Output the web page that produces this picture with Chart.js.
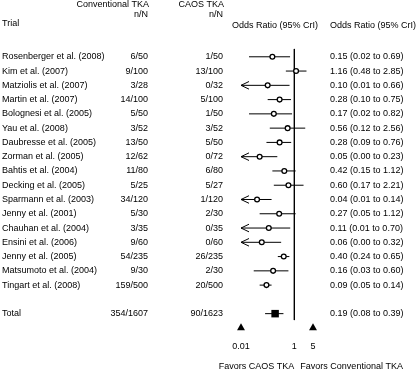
<!DOCTYPE html>
<html>
<head>
<meta charset="utf-8">
<script src="https://cdn.jsdelivr.net/npm/chart.js@4"></script>
<style>
  html, body { margin: 0; padding: 0; background: #fff; }
  #wrap { width: 416px; height: 371px; position: relative; }
</style>
</head>
<body>
<div id="wrap"><canvas id="forest"></canvas></div>
<script>
// =============================
// Data
// =============================
const trials = [
  "Rosenberger et al. (2008)", "Kim et al. (2007)", "Matziolis et al. (2007)",
  "Martin et al. (2007)", "Bolognesi et al. (2005)", "Yau et al. (2008)",
  "Daubresse et al. (2005)", "Zorman et al. (2005)", "Bahtis et al. (2004)",
  "Decking et al. (2005)", "Sparmann et al. (2003)", "Jenny et al. (2001)",
  "Chauhan et al. (2004)", "Ensini et al. (2006)", "Jenny et al. (2005)",
  "Matsumoto et al. (2004)", "Tingart et al. (2008)"
];
const convTKA = ["6/50", "9/100", "3/28", "14/100", "5/50", "3/52", "13/50", "12/62", "11/80",
  "5/25", "34/120", "5/30", "3/35", "9/60", "54/235", "9/30", "159/500"];
const caosTKA = ["1/50", "13/100", "0/32", "5/100", "1/50", "3/52", "5/50", "0/72", "6/80",
  "5/27", "1/120", "2/30", "0/35", "0/60", "26/235", "2/30", "20/500"];
const oddsRatio = [0.15, 1.16, 0.10, 0.28, 0.17, 0.56, 0.28, 0.05, 0.42, 0.60, 0.04, 0.27, 0.11, 0.06, 0.40, 0.16, 0.09];
const lowerCrI = [0.02, 0.48, 0.01, 0.10, 0.02, 0.12, 0.09, 0.00, 0.15, 0.17, 0.01, 0.05, 0.01, 0.00, 0.24, 0.03, 0.05];
const upperCrI = [0.69, 2.85, 0.66, 0.75, 0.82, 2.56, 0.76, 0.23, 1.12, 2.21, 0.14, 1.12, 0.70, 0.32, 0.65, 0.60, 0.14];

const totalConv = "354/1607";
const totalCaos = "90/1623";
const totalOR = [0.19, 0.08, 0.39]; // estimate, lower, upper

const axisTicks = [0.01, 1, 5];
const markerTicks = [0.01, 5];

// =============================
// Layout constants
// =============================
const X_MIN = 0.01, X_MAX = 5;
const TOTAL_ROW = 18;
const MARKER_ROW = 19;
const LINE_TOP = -0.55, LINE_BOTTOM = 18.45;
const COL_CONV = 148, COL_CAOS = 223, COL_OR = 330;
const FONT = "9px 'Liberation Sans', Arial, sans-serif";

const fmt = (v) => v.toFixed(2);
const clampLo = (v) => Math.max(v, X_MIN);

// CI line per trial
const ciSets = trials.map((t, i) => ({
  type: "line",
  data: [{ x: clampLo(lowerCrI[i]), y: i }, { x: upperCrI[i], y: i }],
  borderColor: "#000",
  borderWidth: 1,
  pointRadius: 0,
  clip: false,
  order: 2,
}));

const totalLine = {
  type: "line",
  data: [{ x: totalOR[1], y: TOTAL_ROW }, { x: totalOR[2], y: TOTAL_ROW }],
  borderColor: "#000",
  borderWidth: 1,
  pointRadius: 0,
  clip: false,
  order: 2,
};

const noEffect = {
  type: "line",
  data: [{ x: 1, y: LINE_TOP }, { x: 1, y: LINE_BOTTOM }],
  borderColor: "#000",
  borderWidth: 1,
  pointRadius: 0,
  clip: false,
  order: 3,
};

const pointSet = {
  type: "scatter",
  data: oddsRatio.map((v, i) => ({ x: v, y: i })),
  pointStyle: "circle",
  pointRadius: 2.4,
  pointBorderWidth: 1.3,
  pointBorderColor: "#000",
  pointBackgroundColor: "#fff",
  clip: false,
  order: 1,
};

const totalSet = {
  type: "scatter",
  data: [{ x: totalOR[0], y: TOTAL_ROW }],
  pointStyle: "rect",
  pointRadius: 5.3,
  pointBorderWidth: 0,
  pointBackgroundColor: "#000",
  clip: false,
  order: 1,
};

const markerSet = {
  type: "scatter",
  data: markerTicks.map((v) => ({ x: v, y: MARKER_ROW })),
  pointStyle: "triangle",
  pointRadius: 4.6,
  pointBorderWidth: 0,
  pointBackgroundColor: "#000",
  clip: false,
  order: 1,
};

// =============================
// Text columns plugin
// =============================
const tablePlugin = {
  id: "tableText",
  afterDraw(chart) {
    const ctx = chart.ctx;
    const xs = chart.scales.x;
    const ys = chart.scales.y;
    ctx.save();
    ctx.font = FONT;
    ctx.fillStyle = "#000";
    ctx.textBaseline = "middle";

    const txt = (s, x, y, align) => {
      ctx.textAlign = align;
      ctx.fillText(s, x, y);
    };

    // headers
    txt("Conventional TKA", COL_CONV + 1, 5, "right");
    txt("n/N", COL_CONV, 15, "right");
    txt("CAOS TKA", COL_CAOS + 1, 5, "right");
    txt("n/N", COL_CAOS, 15, "right");
    txt("Trial", 2, 24, "left");
    txt("Odds Ratio (95% CrI)", 275, 26, "center");
    txt("Odds Ratio (95% CrI)", COL_OR, 26, "left");

    // rows
    trials.forEach((t, i) => {
      const y = ys.getPixelForValue(i);
      txt(t, 2, y, "left");
      txt(convTKA[i], COL_CONV, y, "right");
      txt(caosTKA[i], COL_CAOS, y, "right");
      txt(`${fmt(oddsRatio[i])} (${fmt(lowerCrI[i])} to ${fmt(upperCrI[i])})`, COL_OR, y, "left");

      // arrow where interval runs past the axis
      if (lowerCrI[i] <= X_MIN) {
        const ax = xs.getPixelForValue(X_MIN);
        ctx.beginPath();
        ctx.strokeStyle = "#000";
        ctx.lineWidth = 1;
        ctx.moveTo(ax + 8, y - 3.8);
        ctx.lineTo(ax, y);
        ctx.lineTo(ax + 8, y + 3.8);
        ctx.stroke();
      }
    });

    // total row
    const ty = ys.getPixelForValue(TOTAL_ROW);
    txt("Total", 2, ty, "left");
    txt(totalConv, COL_CONV, ty, "right");
    txt(totalCaos, COL_CAOS, ty, "right");
    txt(`${fmt(totalOR[0])} (${fmt(totalOR[1])} to ${fmt(totalOR[2])})`, COL_OR, ty, "left");

    // axis labels
    axisTicks.forEach((v) => {
      txt(String(v), xs.getPixelForValue(v), 347, "center");
    });

    const mid = xs.getPixelForValue(1);
    txt("Favors CAOS TKA", mid, 367, "right");
    txt("Favors Conventional TKA", mid + 6, 367, "left");

    ctx.restore();
  },
};

// =============================
// Chart
// =============================
new Chart(document.getElementById("forest").getContext("2d"), {
  type: "scatter",
  data: {
    datasets: [noEffect, ...ciSets, totalLine, pointSet, totalSet, markerSet],
  },
  options: {
    responsive: true,
    maintainAspectRatio: false,
    animation: false,
    events: [],
    layout: { padding: { left: 241, right: 103, top: 0, bottom: 0 } },
    plugins: { legend: { display: false }, tooltip: { enabled: false } },
    scales: {
      x: { type: "logarithmic", min: X_MIN, max: X_MAX, display: false },
      y: { type: "linear", reverse: true, min: -3.608, max: 21.647, display: false },
    },
  },
  plugins: [tablePlugin],
});
</script>
</body>
</html>
